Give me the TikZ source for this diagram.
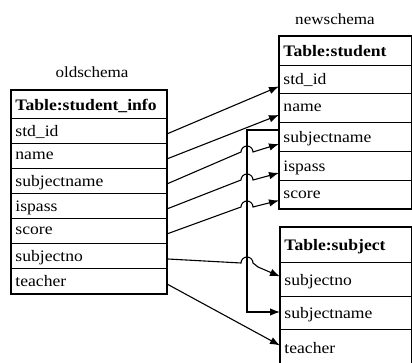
\documentclass[tikz,border=0pt]{standalone}
\usepackage{fontspec}
\setmainfont{Liberation Serif}[FakeStretch=1.1]
\usetikzlibrary{calc,arrows.meta}
\tikzset{
  cell/.style={draw, line width=0.9pt, anchor=north west, inner xsep=4pt, inner ysep=0pt, minimum height=#1, text depth=0pt},
  lcell/.style={cell=#1, minimum width=155pt, text width=147pt, align=left},
  scell/.style={cell=#1, minimum width=132pt, text width=124pt, align=left},
  ucell/.style={cell=#1, minimum width=131pt, text width=123pt, align=left},
  outline/.style={draw, line width=1.5pt},
  conn/.style={line width=1.1pt, -{Latex[length=10pt,width=7.5pt]}},
  lbl/.style={font=\fontsize{15.5}{17}\selectfont},
}
\begin{document}
\begin{tikzpicture}[x=1pt,y=-1pt,font=\fontsize{16}{18}\selectfont]
\useasboundingbox (0,0) rectangle (412,363);
% labels
\node[lbl] (oldlbl) at (92,72) {oldschema};
\node[lbl] (newlbl) at (335,19) {newschema};
% left table
\node[lcell=28pt] (lt) at (11,90) {\textbf{Table:student\_info}};
\node[lcell=25pt] (l1) at (11,118) {std\_id};
\node[lcell=25pt] (l2) at (11,143) {name};
\node[lcell=25pt] (l3) at (11,168) {subjectname};
\node[lcell=25pt] (l4) at (11,193) {ispass};
\node[lcell=25pt] (l5) at (11,218) {score};
\node[lcell=25pt] (l6) at (11,243) {subjectno};
\node[lcell=25pt] (l7) at (11,268) {teacher};
\draw[outline] (lt.north west) rectangle (l7.south east);
% student table
\node[scell=29pt] (st) at (279,36) {\textbf{Table:student}};
\node[scell=28pt] (s1) at (279,65) {std\_id};
\node[scell=29pt] (s2) at (279,93) {name};
\node[scell=29pt] (s3) at (279,122) {subjectname};
\node[scell=29pt] (s4) at (279,151) {ispass};
\node[scell=28pt] (s5) at (279,180) {score};
\draw[outline] (st.north west) rectangle (s5.south east);
% subject table
\node[ucell=35pt] (ut) at (280,227) {\textbf{Table:subject}};
\node[ucell=34pt] (u1) at (280,262) {subjectno};
\node[ucell=33pt] (u2) at (280,296) {subjectname};
\node[ucell=36pt] (u3) at (280,329) {teacher};
\draw[outline] (ut.north west) rectangle (u3.south east);
% connectors
\draw[conn] ($(l1.east)+(0,3)$) -- ($(s1.west)+(0,7)$);
\draw[conn] ($(l2.east)+(0,3)$) -- ($(s2.west)+(0,7)$);
\draw[conn] ($(l3.east)+(0,3)$) -- (241,152) arc[start angle=180,end angle=0,radius=6pt] -- ($(s3.west)+(0,7)$);
\draw[conn] ($(l4.east)+(0,3)$) -- (241,180) arc[start angle=180,end angle=0,radius=6pt] -- ($(s4.west)+(0,7)$);
\draw[conn] ($(l5.east)+(0,3)$) -- (241,207) arc[start angle=180,end angle=0,radius=6pt] -- ($(s5.west)+(0,6)$);
\draw[conn] ($(l6.east)+(0,3)$) -- (241,263) arc[start angle=180,end angle=0,radius=6pt] -- (258,267) -- ($(u1.west)+(0,-3)$);
\draw[conn] ($(l7.east)+(0,3)$) -- ($(u3.west)+(0,-2)$);
% bracket subjectname -> subjectname
\coordinate (btop) at ($(s3.north west)+(0,8)$);
\draw[conn] (btop) -- (247,130) -- (247,312) -- (u2.west |- 0,312);
\end{tikzpicture}
\end{document}
